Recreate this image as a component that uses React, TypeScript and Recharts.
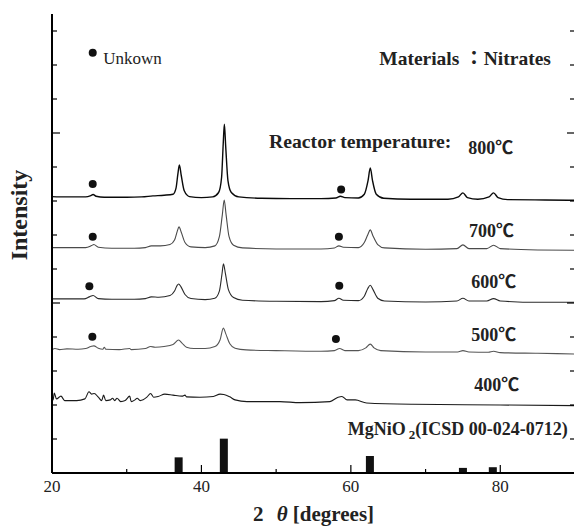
import React from "react";
import { ComposedChart, Line, Bar, Scatter, XAxis, YAxis, ReferenceDot } from "recharts";

const serif = "'Liberation Serif', 'Times New Roman', 'Noto Sans CJK JP', serif";

// 2θ [deg], intensity (a.u., patterns stacked with an offset)
const scan800 = [
  [20, 8.13], [22, 8.12], [24.5, 8.12], [25.2, 8.16], [25.5, 8.19], [25.9, 8.14], [27, 8.11],
  [30, 8.11], [32, 8.12], [33.5, 8.15], [35, 8.17], [36.2, 8.2], [36.6, 8.38], [36.85, 8.8],
  [37.05, 9.06], [37.3, 8.75], [37.7, 8.3], [38.4, 8.13], [40, 8.1], [41.5, 8.12], [42.3, 8.25],
  [42.7, 8.7], [42.92, 9.7], [43.07, 10.26], [43.25, 9.6], [43.55, 8.6], [44.0, 8.25], [45, 8.12],
  [48, 8.08], [52, 8.07], [56, 8.07], [58, 8.09], [58.6, 8.14], [59.2, 8.1], [61, 8.09],
  [61.8, 8.2], [62.3, 8.6], [62.6, 8.97], [62.9, 8.6], [63.4, 8.2], [64.4, 8.08], [68, 8.05],
  [73, 8.05], [74.4, 8.12], [75.0, 8.24], [75.6, 8.1], [77, 8.05], [78.5, 8.12], [79.1, 8.24],
  [79.7, 8.1], [81, 8.04], [86, 8.03], [90, 8.02],
];
const scan700 = [
  [20, 6.63], [24.5, 6.63], [25.3, 6.69], [25.6, 6.72], [26.2, 6.64], [28, 6.61], [31, 6.61],
  [32.5, 6.63], [33.3, 6.68], [34.5, 6.68], [35.8, 6.72], [36.4, 6.85], [36.75, 7.1], [37.0, 7.24],
  [37.3, 7.08], [37.8, 6.78], [38.6, 6.65], [40.5, 6.63], [41.8, 6.68], [42.4, 6.95], [42.8, 7.6],
  [43.05, 8.03], [43.3, 7.6], [43.7, 6.95], [44.3, 6.7], [45.5, 6.62], [50, 6.59], [56, 6.59],
  [57.8, 6.62], [58.4, 6.68], [59, 6.64], [61, 6.63], [61.8, 6.78], [62.25, 7.0], [62.6, 7.15],
  [62.95, 6.98], [63.6, 6.72], [64.5, 6.62], [70, 6.58], [74.2, 6.6], [75.0, 6.71], [75.8, 6.6],
  [78.2, 6.6], [79.1, 6.7], [80, 6.6], [85, 6.56], [90, 6.55],
];
const scan600 = [
  [20, 5.12], [24.3, 5.12], [25.0, 5.18], [25.5, 5.22], [26.2, 5.13], [28, 5.11], [31, 5.11],
  [32.5, 5.13], [33.3, 5.18], [34.3, 5.17], [35.8, 5.22], [36.4, 5.35], [36.75, 5.52], [36.95, 5.56],
  [37.25, 5.48], [37.8, 5.25], [38.6, 5.13], [40.5, 5.1], [41.8, 5.14], [42.4, 5.35], [42.75, 5.85],
  [42.95, 6.15], [43.2, 5.88], [43.6, 5.4], [44.3, 5.16], [45.5, 5.08], [50, 5.05], [56, 5.04],
  [57.8, 5.07], [58.4, 5.14], [59, 5.08], [61, 5.07], [61.8, 5.2], [62.25, 5.42], [62.6, 5.52],
  [62.95, 5.4], [63.6, 5.14], [64.5, 5.06], [70, 5.03], [74.2, 5.06], [75.0, 5.14], [75.8, 5.06],
  [78.2, 5.06], [79.1, 5.13], [80, 5.06], [85, 5.02], [90, 5.02],
];
const scan500 = [
  [20, 3.62], [20.4, 3.66], [21.0, 3.63], [22, 3.65], [23.5, 3.64], [24.5, 3.66], [25.2, 3.72],
  [25.6, 3.74], [26.2, 3.67], [26.8, 3.64], [27.0, 3.7], [27.2, 3.64], [29, 3.63], [30.4, 3.66],
  [30.6, 3.63], [32.5, 3.66], [33.2, 3.72], [33.8, 3.7], [35, 3.72], [36.2, 3.78], [36.95, 3.91],
  [37.4, 3.82], [38, 3.7], [39, 3.66], [40.5, 3.66], [41.8, 3.72], [42.5, 3.92], [42.93, 4.26],
  [43.25, 4.1], [43.8, 3.8], [44.5, 3.67], [46, 3.62], [50, 3.6], [56, 3.58], [57.8, 3.6],
  [58.5, 3.66], [59.2, 3.6], [61, 3.6], [62.0, 3.68], [62.6, 3.79], [63.1, 3.68], [64, 3.6],
  [70, 3.56], [74.3, 3.56], [75.0, 3.6], [75.8, 3.56], [78.4, 3.55], [79.1, 3.58], [80, 3.54],
  [85, 3.52], [90, 3.5],
];
const scan400 = [
  [20, 2.24], [20.15, 2.15], [20.3, 2.35], [20.6, 2.18], [21.2, 2.26], [21.7, 2.13], [23.3, 2.13],
  [24.4, 2.18], [24.95, 2.39], [25.3, 2.32], [25.65, 2.34], [26.2, 2.23], [26.65, 2.13], [26.9, 2.29],
  [27.2, 2.13], [27.8, 2.15], [28.1, 2.2], [28.4, 2.13], [28.7, 2.2], [29.2, 2.1], [29.8, 2.13],
  [30.4, 2.26], [30.6, 2.1], [31.1, 2.15], [31.4, 2.2], [31.8, 2.13], [32.7, 2.23], [33.2, 2.34],
  [33.6, 2.23], [34.2, 2.25], [35.1, 2.32], [36.2, 2.29], [37.4, 2.26], [37.8, 2.29], [38.0, 2.24],
  [39.8, 2.23], [41.6, 2.25], [42.5, 2.32], [43.0, 2.31], [43.8, 2.24], [44.5, 2.15], [46.1, 2.1],
  [50.5, 2.1], [53.2, 2.07], [57.2, 2.1], [58.3, 2.23], [58.8, 2.25], [59.5, 2.15], [60.6, 2.15],
  [62.1, 2.06], [68.3, 2.02], [80, 2.0], [90, 1.98],
];

// MgNiO2 reference lines (ICSD 00-024-0712)
const refPeaks = [[36.95, 0.46], [43.0, 1.01], [62.55, 0.5], [75.0, 0.15], [79.0, 0.17]];

// "Unkown" phase markers (incl. the legend marker)
const unknownMarks = [
  [25.45, 12.36],
  [25.45, 8.5], [58.7, 8.34],
  [25.45, 6.95], [58.4, 6.95],
  [25.0, 5.49], [58.45, 5.51],
  [25.4, 4.01], [58.0, 3.94],
];

const xTicks = [20, 30, 40, 50, 60, 70, 80];
const yTicks = [0, 1, 2, 3, 4, 5, 6, 7, 8, 9, 10, 11, 12, 13];

const toPts = (rows: number[][]) => rows.map(([x, v]) => ({ x, v }));

const traces = [
  { key: "800", data: toPts(scan800), color: "#0a0a0a", width: 1.4 },
  { key: "700", data: toPts(scan700), color: "#4a4a4a", width: 1.1 },
  { key: "600", data: toPts(scan600), color: "#2a2a2a", width: 1.1 },
  { key: "500", data: toPts(scan500), color: "#555555", width: 1.1 },
  { key: "400", data: toPts(scan400), color: "#1a1a1a", width: 1.1 },
];

const notes = [
  { text: "Unkown", x: 26.85, y: 12.03, size: 17, bold: false },
  { text: "Materials ：Nitrates", x: 63.8, y: 12.0, size: 19.5, bold: true },
  { text: "Reactor temperature:", x: 49.05, y: 9.56, size: 19.7, bold: true },
  { text: "800℃", x: 75.7, y: 9.38, size: 18, bold: true },
  { text: "700℃", x: 75.8, y: 6.93, size: 18, bold: true },
  { text: "600℃", x: 76.1, y: 5.43, size: 18, bold: true },
  { text: "500℃", x: 76.1, y: 3.88, size: 18, bold: true },
  { text: "400℃", x: 76.5, y: 2.42, size: 18, bold: true },
];

const BottomTick = ({ x, y, payload }: any) => {
  const major = payload.value % 20 === 0;
  return (
    <g>
      <line x1={x} x2={x} y1={y} y2={y - (major ? 8 : 4)} stroke="#000" strokeWidth={1.2} />
      {major && (
        <text x={x} y={y + 19} textAnchor="middle" fontSize={17} fontFamily={serif} fill="#222">
          {payload.value}
        </text>
      )}
    </g>
  );
};

const TopTick = ({ x, y, payload }: any) => {
  const major = payload.value % 20 === 0;
  return <line x1={x} x2={x} y1={y} y2={y + (major ? 8 : 4)} stroke="#000" strokeWidth={1.2} />;
};

const LeftTick = ({ x, y, payload }: any) => {
  const major = payload.value % 5 === 0;
  return <line x1={x} x2={x + (major ? 8 : 5)} y1={y} y2={y} stroke="#000" strokeWidth={1.2} />;
};

const RightTick = ({ x, y, payload }: any) => {
  const major = payload.value % 5 === 0;
  return <line x1={x} x2={x - (major ? 8 : 5)} y1={y} y2={y} stroke="#000" strokeWidth={1.2} />;
};

// fixed-width stick for each reference reflection, centred on its 2θ
const RefStick = (p: any) => {
  const cx = p.x + p.width / 2;
  return <rect x={cx - 4} y={p.y} width={8} height={p.height} fill="#111" />;
};

const noteLabel = (n: any) => (props: any) => {
  const vb = props.viewBox;
  return (
    <text
      x={vb.x}
      y={vb.y}
      fontSize={n.size}
      fontWeight={n.bold ? "bold" : "normal"}
      fontFamily={serif}
      fill="#222"
    >
      {n.text}
    </text>
  );
};

const refLabel = (props: any) => {
  const vb = props.viewBox;
  return (
    <text x={vb.x} y={vb.y} fontSize={18} fontWeight="bold" fontFamily={serif} fill="#222">
      MgNiO
      <tspan fontSize={13} dx={3} dy={4}>2</tspan>
      <tspan dy={-4}>(ICSD 00-024-0712)</tspan>
    </text>
  );
};

export default function App() {
  const bars = toPts(refPeaks);
  const marks = toPts(unknownMarks);
  return (
    <div style={{ position: "absolute", left: 0, top: 0, width: 574, height: 527, overflow: "hidden", background: "#fff" }}>
      <ComposedChart width={585} height={527} data={bars} margin={{ top: 14, right: 0, bottom: 0, left: 0 }}>
        <XAxis
          dataKey="x"
          type="number"
          domain={[20, 90]}
          ticks={xTicks}
          allowDataOverflow
          height={54}
          tickSize={0}
          tickMargin={0}
          tick={<BottomTick />}
          axisLine={{ stroke: "#000", strokeWidth: 2 }}
          label={{
            content: (p: any) => (
              <text
                x={p.viewBox.x + p.viewBox.width / 2}
                y={p.viewBox.y + 48}
                textAnchor="middle"
                fontSize={21}
                fontWeight="bold"
                fontFamily={serif}
                fill="#222"
              >
                2 <tspan fontStyle="italic" dx={8}>θ</tspan> [degrees]
              </text>
            ),
          }}
        />
        <XAxis
          xAxisId="top"
          dataKey="x"
          type="number"
          orientation="top"
          domain={[20, 90]}
          ticks={xTicks}
          allowDataOverflow
          height={0}
          tickSize={0}
          tickMargin={0}
          tick={<TopTick />}
          axisLine={{ stroke: "#000", strokeWidth: 2 }}
        />
        <YAxis
          type="number"
          domain={[0, 13.5]}
          ticks={yTicks}
          allowDataOverflow
          width={52}
          tickSize={0}
          tickMargin={0}
          tick={<LeftTick />}
          axisLine={{ stroke: "#000", strokeWidth: 2 }}
          label={{
            content: () => (
              <text
                x={19}
                y={215}
                transform="rotate(-90 19 215)"
                textAnchor="middle"
                dominantBaseline="central"
                fontSize={24}
                fontWeight="bold"
                fontFamily={serif}
                fill="#222"
              >
                Intensity
              </text>
            ),
          }}
        />
        <YAxis
          yAxisId="right"
          orientation="right"
          type="number"
          domain={[0, 13.5]}
          ticks={yTicks}
          allowDataOverflow
          width={10}
          tickSize={0}
          tickMargin={0}
          tick={<RightTick />}
          axisLine={{ stroke: "#000", strokeWidth: 2 }}
        />
        <Bar dataKey="v" fill="#111" barSize={8} shape={RefStick} isAnimationActive={false} />
        {traces.map(t => (
          <Line
            key={t.key}
            data={t.data}
            dataKey="v"
            type="monotone"
            stroke={t.color}
            strokeWidth={t.width}
            dot={false}
            activeDot={false}
            isAnimationActive={false}
          />
        ))}
        <Scatter
          data={marks}
          dataKey="v"
          fill="#111"
          shape={(p: any) => <circle cx={p.cx} cy={p.cy} r={4} fill="#111" />}
          isAnimationActive={false}
        />
        {notes.map(n => (
          <ReferenceDot key={n.text} x={n.x} y={n.y} r={0} stroke="none" fill="none" label={noteLabel(n)} />
        ))}
        <ReferenceDot x={59.6} y={1.12} r={0} stroke="none" fill="none" label={refLabel} />
      </ComposedChart>
    </div>
  );
}
